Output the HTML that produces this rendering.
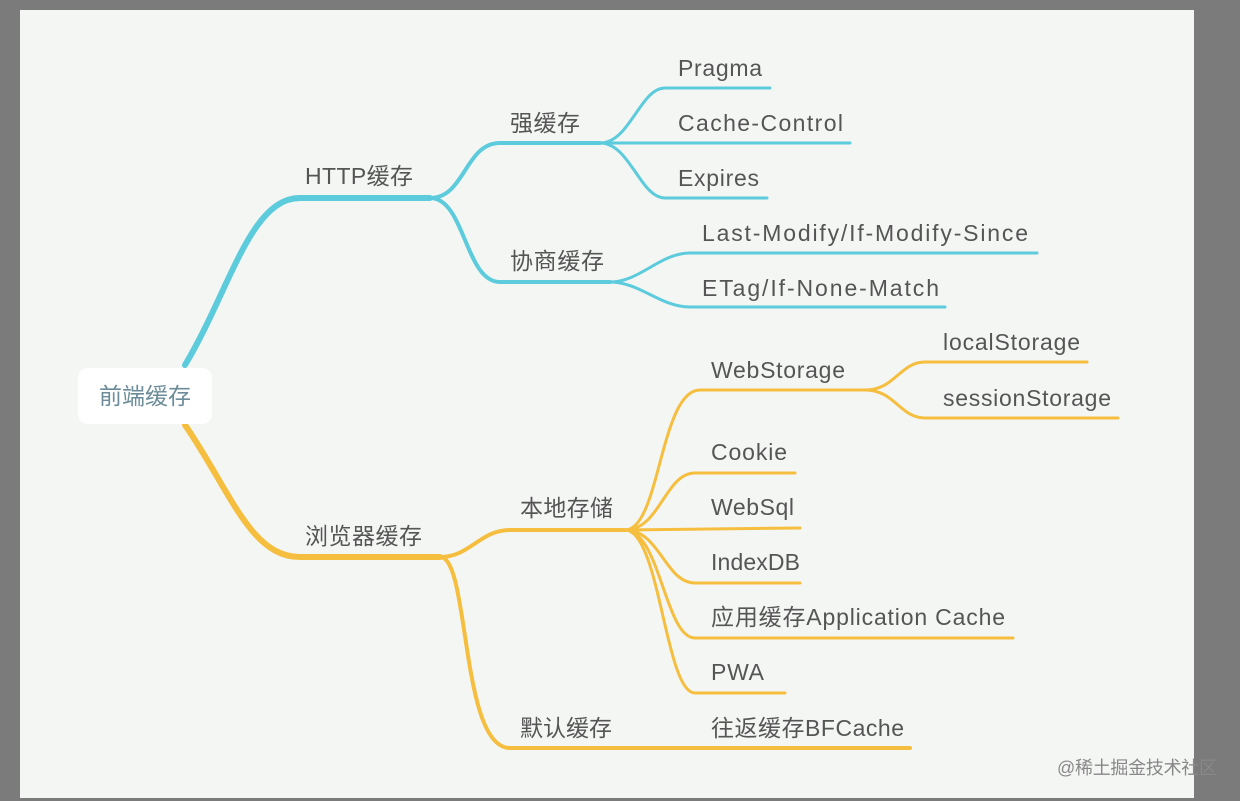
<!DOCTYPE html>
<html><head><meta charset="utf-8"><style>
html,body{margin:0;padding:0;background:#7b7b7b;}
svg{display:block}
text{font-family:"Liberation Sans","Noto Sans CJK SC",sans-serif;font-size:23px;fill:#555;}
</style></head><body>
<svg width="1240" height="801" viewBox="0 0 1240 801">
<rect x="0" y="0" width="1240" height="801" fill="#7b7b7b"/>
<rect x="20" y="10" width="1174" height="788" fill="#f4f6f4"/>
<g fill="none" stroke="#5ccbdc" stroke-linecap="round">
<path d="M185 365 C230 290,250 198,300 198 L430 198" stroke-width="6"/>
<path d="M430 198 C465 198,465 143,500 143 L600 143" stroke-width="4"/>
<path d="M430 198 C465 198,465 282,500 282 L610 282" stroke-width="4"/>
<path d="M600 143 C630 143,640 88,665 88 L770 88" stroke-width="3"/>
<path d="M600 143 L850 143" stroke-width="3"/>
<path d="M600 143 C630 143,640 198,665 198 L767 198" stroke-width="3"/>
<path d="M610 282 C640 282,660 253,690 253 L1037 253" stroke-width="3"/>
<path d="M610 282 C640 282,660 307,690 307 L945 307" stroke-width="3"/>
</g>
<g fill="none" stroke="#f6be3e" stroke-linecap="round">
<path d="M185 425 C230 490,250 557,300 557 L440 557" stroke-width="6"/>
<path d="M440 557 C470 557,480 530,510 530 L625 530" stroke-width="4"/>
<path d="M440 557 C470 557,460 748,510 748 L910 748" stroke-width="4"/>
<path d="M625 530 C660 530,660 390,700 390 L865 390" stroke-width="3"/>
<path d="M625 530 C660 530,665 473,695 473 L795 473" stroke-width="3"/>
<path d="M625 530 L800 528" stroke-width="3"/>
<path d="M625 530 C660 530,665 583,695 583 L800 583" stroke-width="3"/>
<path d="M625 530 C660 530,665 638,695 638 L1013 638" stroke-width="3"/>
<path d="M625 530 C660 530,665 693,695 693 L785 693" stroke-width="3"/>
<path d="M865 390 C895 390,900 362,925 362 L1087 362" stroke-width="3"/>
<path d="M865 390 C895 390,900 418,925 418 L1118 418" stroke-width="3"/>
</g>
<rect x="78" y="368" width="134" height="56" rx="10" fill="#ffffff"/>
<text x="145" y="404" text-anchor="middle" style="fill:#6b8c98">前端缓存</text>
<text x="305" y="184" textLength="108">HTTP缓存</text>
<text x="510" y="131" textLength="70">强缓存</text>
<text x="510" y="269" textLength="94">协商缓存</text>
<text x="678" y="76" textLength="84">Pragma</text>
<text x="678" y="131" textLength="165">Cache-Control</text>
<text x="678" y="186" textLength="81">Expires</text>
<text x="702" y="241" textLength="326">Last-Modify/If-Modify-Since</text>
<text x="702" y="296" textLength="237">ETag/If-None-Match</text>
<text x="305" y="544" textLength="117">浏览器缓存</text>
<text x="520" y="516" textLength="93">本地存储</text>
<text x="520" y="736" textLength="92">默认缓存</text>
<text x="711" y="378" textLength="134">WebStorage</text>
<text x="943" y="350" textLength="137">localStorage</text>
<text x="943" y="406" textLength="168">sessionStorage</text>
<text x="711" y="460" textLength="76">Cookie</text>
<text x="711" y="515" textLength="83">WebSql</text>
<text x="711" y="570" textLength="89">IndexDB</text>
<text x="711" y="625" textLength="294">应用缓存Application Cache</text>
<text x="711" y="680" textLength="53">PWA</text>
<text x="711" y="736" textLength="193">往返缓存BFCache</text>
<text x="1057" y="774" textLength="160" style="font-size:18px;fill:#888">@稀土掘金技术社区</text>
</svg>
</body></html>
